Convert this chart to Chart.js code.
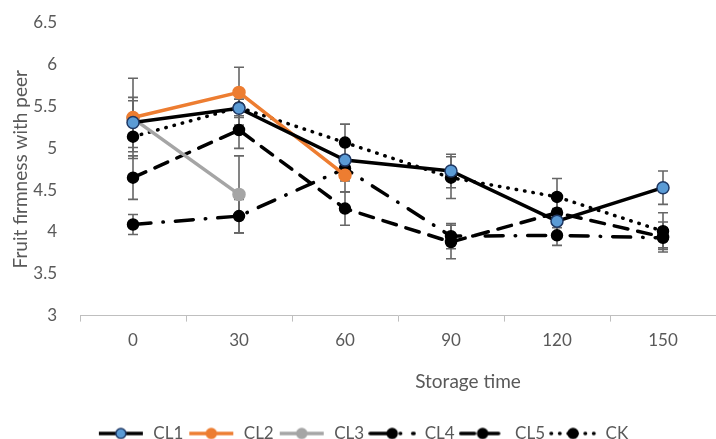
<!DOCTYPE html>
<html>
<head>
<meta charset="utf-8">
<script src="https://cdn.jsdelivr.net/npm/chart.js@4/dist/chart.umd.min.js"></script>
<style>
  html, body { margin: 0; padding: 0; background: #fff; }
  #wrap { width: 716px; height: 439px; }
</style>
</head>
<body>
<div id="wrap"><canvas id="firmnessChart"></canvas></div>
<script>
// storage days and firmness readings per treatment
const days = ['0', '30', '60', '90', '120', '150'];
const cl1 = [5.31, 5.48, 4.86, 4.73, 4.13, 4.53];
const cl2 = [5.37, 5.67, 4.68, null, null, null];
const cl3 = [5.36, 4.45, null, null, null, null];
const cl4 = [4.09, 4.19, 4.76, 3.95, 3.96, 3.93];
const cl5 = [4.65, 5.22, 4.28, 3.88, 4.23, 3.94];
const ck = [5.14, 5.49, 5.07, 4.65, 4.42, 4.01];

// error bar half-widths
const cl1Err = [0.30, 0.20, 0.20, 0.20, 0.15, 0.20];
const cl2Err = [0.20, 0.30, 0.20, null, null, null];
const cl3Err = [0.48, 0.46, null, null, null, null];
const cl4Err = [0.12, 0.20, 0.15, 0.15, 0.12, 0.12];
const cl5Err = [0.26, 0.22, 0.20, 0.20, 0.18, 0.18];
const ckErr = [0.18, 0.10, 0.22, 0.25, 0.22, 0.22];

const yTicks = [3, 3.5, 4, 4.5, 5, 5.5, 6, 6.5];
const xTitle = 'Storage time';
const yTitle = 'Fruit firmness with peer';

const grey = '#595959';
const fontFamily = "Lato, 'Open Sans', sans-serif";

function makeSet(label, data, err, color, markerFill, markerBorder, dash, radius) {
    return {
        label: label,
        data: data,
        errors: err,
        borderColor: color,
        backgroundColor: markerFill,
        pointBackgroundColor: markerFill,
        pointBorderColor: markerBorder,
        pointBorderWidth: 1.5,
        pointRadius: radius,
        borderWidth: 3.5,
        borderDash: dash,
        borderCapStyle: dash.length ? 'round' : 'butt',
        spanGaps: false,
        tension: 0
    };
}

function legendIcon(ds) {
    const c = document.createElement('canvas');
    c.width = 48;
    c.height = 14;
    const g = c.getContext('2d');
    g.strokeStyle = ds.borderColor;
    g.lineWidth = 3.5;
    g.lineCap = ds.borderCapStyle;
    g.setLineDash(ds.borderDash);
    g.beginPath();
    g.moveTo(2, 7);
    g.lineTo(46, 7);
    g.stroke();
    g.setLineDash([]);
    g.beginPath();
    g.arc(24, 7, 5, 0, Math.PI * 2);
    g.fillStyle = ds.pointBackgroundColor;
    g.fill();
    g.lineWidth = 1.5;
    g.strokeStyle = ds.pointBorderColor;
    g.stroke();
    return c;
}

const errorBars = {
    id: 'errorBars',
    beforeDatasetsDraw(chart) {
        const ctx = chart.ctx;
        const y = chart.scales.y;
        ctx.save();
        ctx.strokeStyle = '#666666';
        ctx.lineWidth = 1.6;
        chart.data.datasets.forEach((ds, i) => {
            const meta = chart.getDatasetMeta(i);
            meta.data.forEach((pt, j) => {
                const v = ds.data[j];
                const e = ds.errors[j];
                if (v == null || e == null) return;
                const top = y.getPixelForValue(v + e);
                const bot = y.getPixelForValue(v - e);
                ctx.beginPath();
                ctx.moveTo(pt.x, top);
                ctx.lineTo(pt.x, bot);
                ctx.moveTo(pt.x - 5, top);
                ctx.lineTo(pt.x + 5, top);
                ctx.moveTo(pt.x - 5, bot);
                ctx.lineTo(pt.x + 5, bot);
                ctx.stroke();
            });
        });
        ctx.restore();
    }
};

// x title sits right of centre in the original
const xTitlePlugin = {
    id: 'xTitlePlugin',
    afterDraw(chart) {
        const ctx = chart.ctx;
        const a = chart.chartArea;
        ctx.save();
        ctx.font = '19px ' + fontFamily;
        ctx.fillStyle = grey;
        ctx.textAlign = 'center';
        ctx.textBaseline = 'middle';
        ctx.fillText(xTitle, (a.left + a.right) / 2 + 70, a.bottom + 66);
        ctx.restore();
    }
};

const ctx = document.getElementById('firmnessChart').getContext('2d');
const firmnessChart = new Chart(ctx, {
    type: 'line',
    data: {
        labels: days,
        datasets: [
            makeSet('CL1', cl1, cl1Err, '#000000', '#5b9bd5', '#1f3864', [], 6),
            makeSet('CL2', cl2, cl2Err, '#ed7d31', '#ed7d31', '#ed7d31', [], 6),
            makeSet('CL3', cl3, cl3Err, '#a5a5a5', '#a5a5a5', '#a5a5a5', [], 6),
            makeSet('CL4', cl4, cl4Err, '#000000', '#000000', '#000000', [18, 12, 0.5, 12], 5.5),
            makeSet('CL5', cl5, cl5Err, '#000000', '#000000', '#000000', [14, 10], 5.5),
            makeSet('CK', ck, ckErr, '#000000', '#000000', '#000000', [0.5, 8], 5.5)
        ]
    },
    options: {
        responsive: true,
        maintainAspectRatio: false,
        animation: false,
        layout: { autoPadding: false, padding: { top: 23, left: 0, right: -9, bottom: -13 } },
        plugins: {
            legend: {
                position: 'bottom',
                labels: {
                    usePointStyle: true,
                    pointStyleWidth: 48,
                    padding: 4,
                    color: grey,
                    font: { family: fontFamily, size: 17 },
                    generateLabels(chart) {
                        return chart.data.datasets.map((ds, i) => ({
                            text: ds.label,
                            pointStyle: legendIcon(ds),
                            fillStyle: ds.pointBackgroundColor,
                            strokeStyle: ds.borderColor,
                            lineWidth: 0,
                            hidden: false,
                            datasetIndex: i,
                            fontColor: grey
                        }));
                    }
                }
            },
            tooltip: { enabled: false }
        },
        scales: {
            x: {
                offset: true,
                grid: {
                    display: true,
                    offset: true,
                    drawOnChartArea: false,
                    drawTicks: true,
                    tickLength: 6,
                    color: '#bfbfbf'
                },
                border: { display: true, color: '#bfbfbf', width: 1 },
                ticks: { color: grey, font: { family: fontFamily, size: 17 }, padding: 9 },
                afterFit(scale) { scale.height += 61; }
            },
            y: {
                min: yTicks[0],
                max: yTicks[yTicks.length - 1],
                afterBuildTicks(scale) { scale.ticks = yTicks.map(v => ({ value: v })); },
                afterFit(scale) { scale.width = 80; },
                grid: { display: false, drawTicks: true, tickLength: 19 },
                border: { display: false },
                ticks: {
                    color: grey,
                    font: { family: fontFamily, size: 17 },
                    padding: 4,
                    callback: v => String(v)
                },
                title: {
                    display: true,
                    text: yTitle,
                    color: grey,
                    font: { family: fontFamily, size: 19 },
                    padding: { top: 9, bottom: 0 }
                }
            }
        }
    },
    plugins: [errorBars, xTitlePlugin]
});
</script>
</body>
</html>
